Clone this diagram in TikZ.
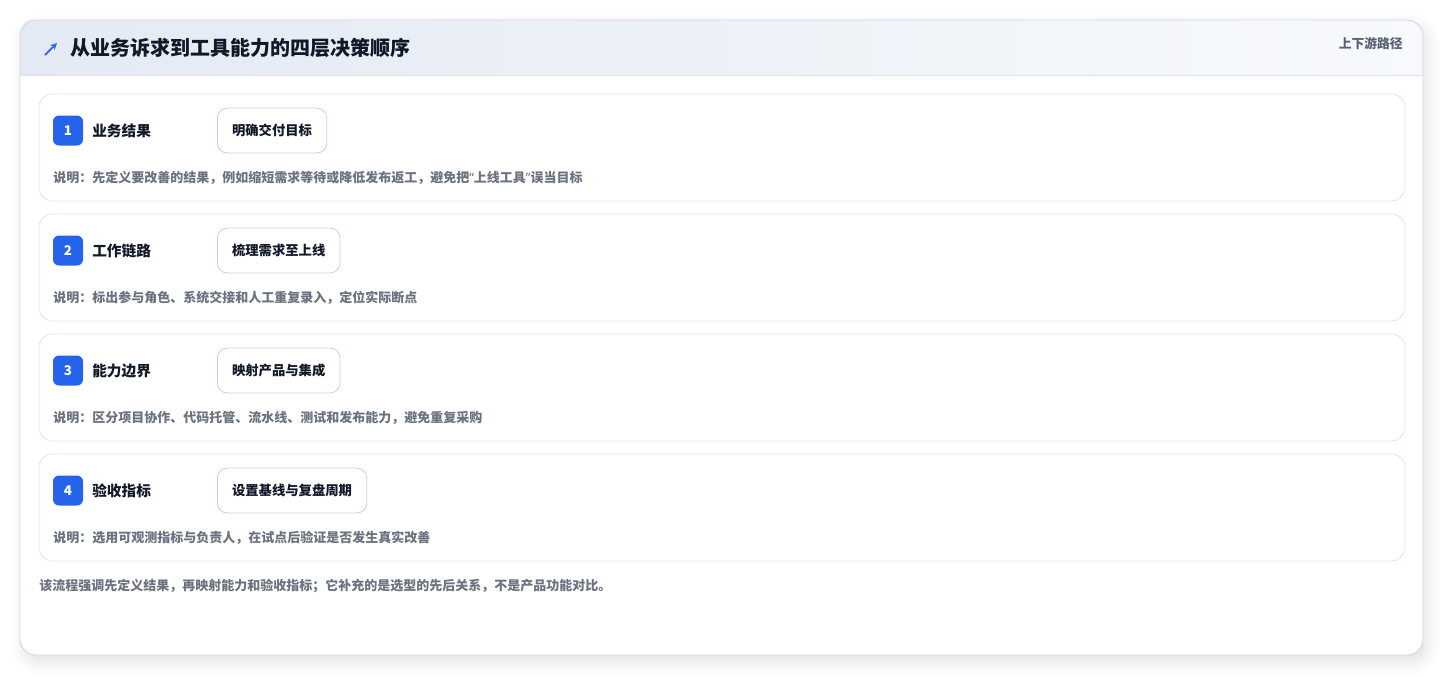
\documentclass[tikz,border=0pt]{standalone}
\usepackage{fontspec}
\setmainfont{Noto Sans CJK SC}
\newfontfamily\latinq{Noto Sans}
\usetikzlibrary{shadows.blur,arrows.meta}

\definecolor{cardline}{HTML}{D3D8E1}
\definecolor{hdleft}{HTML}{E4EAF3}
\definecolor{hdright}{HTML}{F7F9FC}
\definecolor{hdline}{HTML}{DCE4F0}
\definecolor{rowline}{HTML}{DDE5F2}
\definecolor{pillline}{HTML}{C3D2E8}
\definecolor{badgeblue}{HTML}{2563EB}
\definecolor{iconblue}{HTML}{3B6BE0}
\definecolor{inkdark}{HTML}{111827}
\definecolor{inkgray}{HTML}{6B7280}
\definecolor{taggray}{HTML}{596273}

\tikzset{
  rowbox/.style={draw=rowline, fill=white, rounded corners=10pt, line width=0.6pt},
  badge/.style={fill=badgeblue, text=white, rounded corners=4.5pt, minimum size=22.5pt,
    inner sep=0pt, font=\bfseries\fontsize{10}{12}\selectfont},
  layername/.style={anchor=west, inner sep=0pt, text=inkdark, font=\bfseries\fontsize{11}{13}\selectfont},
  goalpill/.style={anchor=west, draw=pillline, fill=white, rounded corners=7.5pt, line width=0.6pt,
    minimum height=33.75pt, inner xsep=11pt, text=inkdark, font=\bfseries\fontsize{10}{12}\selectfont},
  notetext/.style={anchor=west, inner sep=0pt, text=inkgray, font=\bfseries\fontsize{9.75}{11}\selectfont},
}

\begin{document}
\begin{tikzpicture}[x=0.75pt,y=-0.75pt]
  \useasboundingbox (0,0) rectangle (1444,676);
  % outer card with its shadow
  \path[fill=white, rounded corners=12pt,
    blur shadow={shadow xshift=3pt, shadow yshift=-5pt, shadow opacity=12, shadow blur radius=10pt}]
    (20,20) rectangle (1423,655);
  % header band
  \begin{scope}
    \clip[rounded corners=12pt] (20,20) rectangle (1423,655);
    \shade[left color=hdleft, right color=hdright] (20,20) rectangle (1423,75);
  \end{scope}
  \draw[hdline, line width=0.6pt] (20,75) -- (1423,75);
  \draw[cardline, line width=0.7pt, rounded corners=12pt] (20,20) rectangle (1423,655);

  \draw[iconblue, line width=1.5pt, -{Stealth[length=5pt,width=5pt]}] (45,55) -- (57,43);
  \node[anchor=west, inner sep=0pt, text=inkdark, font=\bfseries\fontsize{15}{18}\selectfont]
    (title) at (70,48) {从业务诉求到工具能力的四层决策顺序};
  \node[anchor=east, inner sep=0pt, text=taggray, font=\bfseries\fontsize{9.6}{12}\selectfont]
    (route) at (1403,44) {上下游路径};

  % the four layers
  \foreach \n/\lab/\goal/\txt [count=\i from 0] in {
      1/业务结果/明确交付目标/{说明：先定义要改善的结果，例如缩短需求等待或降低发布返工，避免把{\latinq “}上线工具{\latinq ”}误当目标},
      2/工作链路/梳理需求至上线/{说明：标出参与角色、系统交接和人工重复录入，定位实际断点},
      3/能力边界/映射产品与集成/{说明：区分项目协作、代码托管、流水线、测试和发布能力，避免重复采购},
      4/验收指标/设置基线与复盘周期/{说明：选用可观测指标与负责人，在试点后验证是否发生真实改善}}
  {
    \pgfmathsetmacro\top{94+120*\i}
    \draw[rowbox] (39,\top) rectangle (1405,\top+107);
    \node[badge] (badge\n) at (68,\top+36.5) {\n};
    \node[layername] (layer\n) at (92,\top+37) {\lab};
    \node[goalpill] (goal\n) at (217,\top+36.5) {\goal};
    \node[notetext] (note\n) at (53,\top+84) {\txt};
  }

  \node[notetext] (footer) at (39,586) {该流程强调先定义结果，再映射能力和验收指标；它补充的是选型的先后关系，不是产品功能对比。};
\end{tikzpicture}
\end{document}
